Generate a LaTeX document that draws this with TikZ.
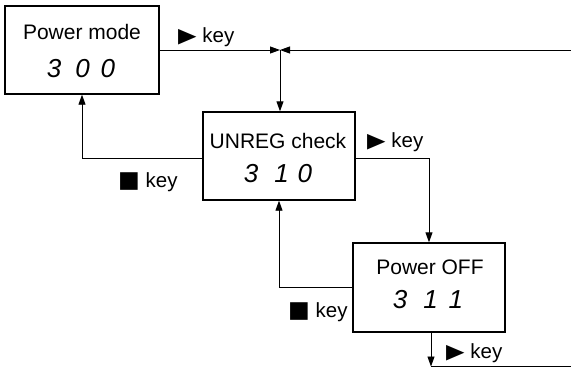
\documentclass[tikz,border=0pt]{standalone}
\usepackage{fontspec}
\usepackage{graphicx}
\setmainfont{Liberation Sans}
\newfontfamily\symfont{DejaVu Sans}
\usetikzlibrary{arrows.meta}
\newcommand{\tri}{{\symfont\fontsize{24}{24}\selectfont\scalebox{1}[0.85]{▶}}}
\newcommand{\sqr}{{\symfont\fontsize{23}{23}\selectfont ■}}
\begin{document}
\begin{tikzpicture}[x=1pt,y=-1pt,
  box/.style={draw,line width=1.4pt,minimum height=88pt,inner sep=0pt},
  ttl/.style={anchor=base,inner sep=0pt,font=\fontsize{21}{21}\selectfont},
  dig/.style={anchor=base,inner sep=0pt,font=\fontsize{26}{26}\selectfont\itshape},
  lbl/.style={anchor=base west,inner sep=0pt,font=\fontsize{20.5}{20.5}\selectfont},
  conn/.style={line width=0.9pt},
  arr/.style={conn,-{Triangle[length=10pt,width=7pt]}}]
\useasboundingbox (0,0) rectangle (571,368);
% boxes
\node[box,minimum width=154pt] (b1) at (82,50) {};
\node[box,minimum width=152pt] (b2) at (279,156) {};
\node[box,minimum width=152pt,minimum height=89pt] (b3) at (429,287.5) {};
% texts
\node[ttl] (t1) at (82,39) {Power mode};
\node[dig] (d1) at (81,77) {3\hspace{14pt}0\hspace{11pt}0};
\node[ttl] (t2) at (278,148) {UNREG check};
\node[dig] (d2) at (278,182) {3\hspace{16pt}1\hspace{9pt}0};
\node[ttl] (t3) at (430,274) {Power OFF};
\node[dig] (d3) at (428,308) {3\hspace{16pt}1\hspace{11pt}1};
% coordinates
\coordinate (J) at (280,50);
\coordinate (R) at (571,50);
\coordinate (C) at (431,366.5);
\coordinate (E) at (571,366.5);
% connectors
\draw[arr] (b1.east) -- (J);
\draw[arr] (R) -- (J);
\draw[arr] (J) -- (J |- b2.north);
\draw[arr] (b2.west |- 0,158) -| (b1.south);
\draw[arr] (b2.east |- 0,158) -| (b3.north);
\draw[arr] (b3.west) -| (b2.south);
\draw[arr] (C |- b3.south) -- (C);
\draw[conn] (C) -- (E);
% labels
\node[lbl] (k1) at (178,42) {\tri\ key};
\node[lbl] (k2) at (367,147) {\tri\ key};
\node[lbl] (k3) at (446,358) {\tri\ key};
\node[lbl] (k4) at (118,187) {\sqr\ key};
\node[lbl] (k5) at (288,317) {\sqr\ key};
\end{tikzpicture}
\end{document}
